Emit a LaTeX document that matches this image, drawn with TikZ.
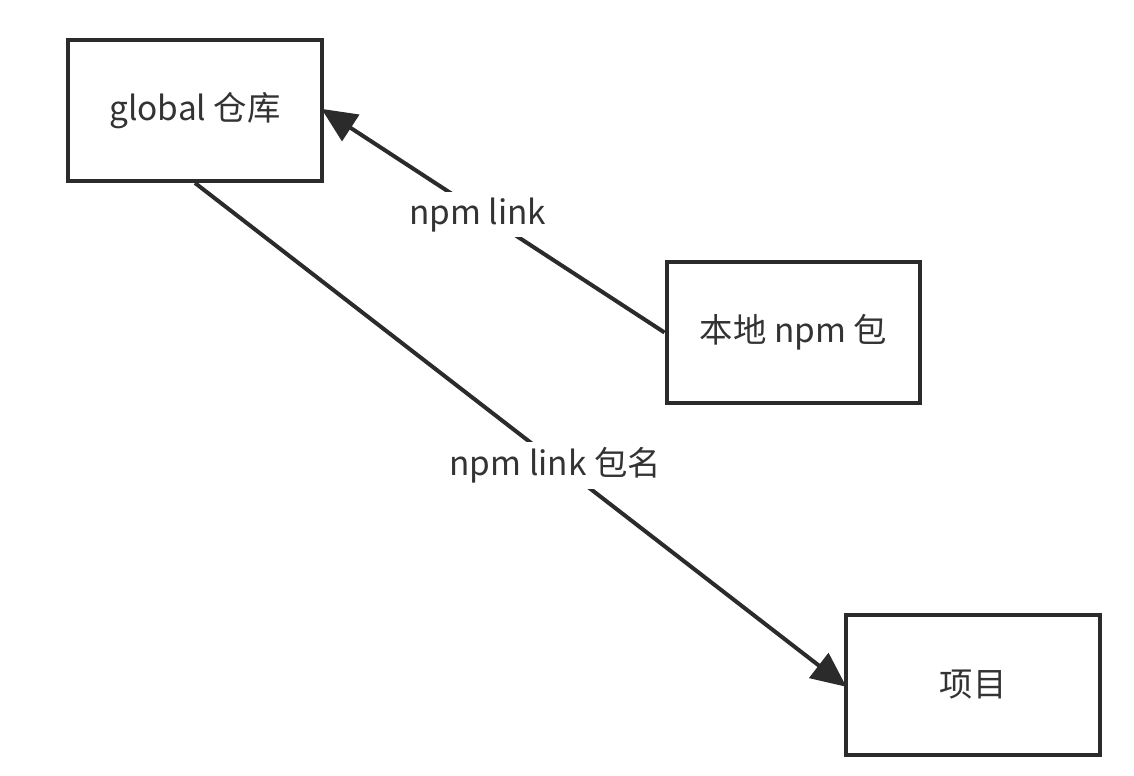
\documentclass[tikz,border=0pt]{standalone}
\usepackage{fontspec}
\usepackage{tikz}
\usetikzlibrary{arrows.meta}
\setmainfont{Noto Sans CJK SC}
\definecolor{traco}{HTML}{2B2B2B}
\definecolor{texto}{HTML}{333333}

\begin{document}
\begin{tikzpicture}[x=0.02cm, y=-0.02cm]
\tikzstyle{caixa}=[rectangle, draw=traco, line width=0.08cm, minimum width=5.08cm, minimum height=2.82cm, text=texto, font=\fontsize{19}{23}\selectfont]
\tikzstyle{seta}=[draw=traco, line width=0.08cm, -{Triangle[length=0.7cm, width=0.62cm]}, shorten >=-0.06cm]
\tikzstyle{rotulo}=[fill=white, text=texto, inner sep=3pt, yshift=-0.08cm, font=\fontsize{19}{23}\selectfont]
\useasboundingbox (0,0) rectangle (1134,776);
 \node[caixa] (global) at (195,110.5) {global 仓库};
 \node[caixa] (local) at (793.5,332.5) {本地 npm 包};
 \node[caixa] (projeto) at (973,685) {项目};
 % link do pacote
 \draw[seta] (local.west) -- (global.east)
  node[rotulo, pos=0.548]{npm link};
 % link no projeto
 \draw[seta] (global.south) -- (projeto.west)
  node[rotulo, pos=0.555]{npm link 包名};
\end{tikzpicture}
\end{document}
